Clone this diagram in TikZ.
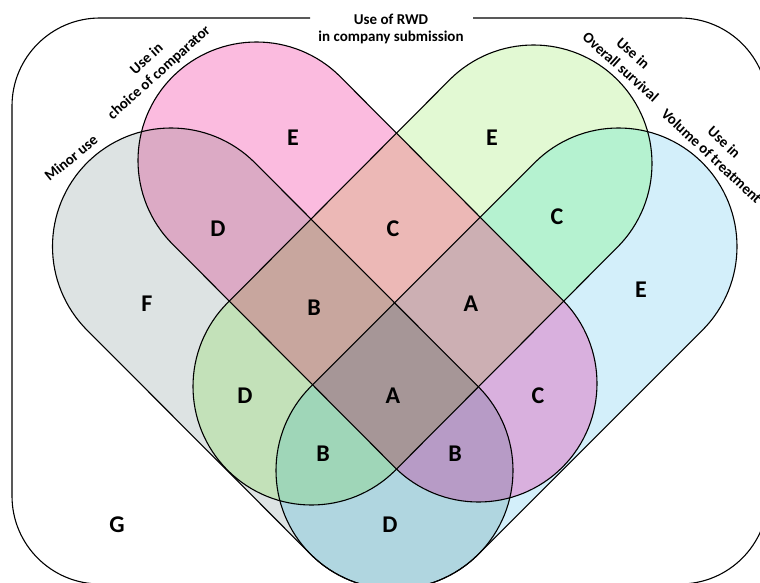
\documentclass[tikz,border=0pt]{standalone}
\usepackage{fontspec}
\setmainfont{Carlito}
\usetikzlibrary{calc}
\definecolor{cG}{HTML}{DDE3E3}
\definecolor{cP}{HTML}{FBBBDF}
\definecolor{cN}{HTML}{E2F9D3}
\definecolor{cU}{HTML}{D3EFFA}
\definecolor{cGP}{HTML}{DCAAC5}
\definecolor{cPN}{HTML}{ECB8B6}
\definecolor{cNU}{HTML}{B5F2D0}
\definecolor{cGN}{HTML}{C3E1B9}
\definecolor{cPU}{HTML}{D9B0DE}
\definecolor{cGU}{HTML}{B0D6E0}
\definecolor{cGPN}{HTML}{C8A69E}
\definecolor{cPNU}{HTML}{CCAFB3}
\definecolor{cGNU}{HTML}{9FD6B8}
\definecolor{cGPU}{HTML}{B79BC6}
\definecolor{cGPNU}{HTML}{A69697}
\newcommand\caprad{118.5}
\newcommand\capsulepath[3]{($(#1)+(#3-90:\caprad)$) -- ($(#2)+(#3-90:\caprad)$) arc[start angle=#3-90,end angle=#3+90,radius=\caprad] -- ($(#1)+(#3+90:\caprad)$) arc[start angle=#3+90,end angle=#3+270,radius=\caprad] -- cycle}
\def\shG{\capsulepath{171,246.5}{394.5,470.5}{45}}
\def\shP{\capsulepath{256.5,160.5}{478.5,383.5}{45}}
\def\shN{\capsulepath{533.5,163.5}{311.5,386.5}{135}}
\def\shU{\capsulepath{618.5,246.5}{394.5,470.5}{135}}
\begin{document}
\begin{tikzpicture}[x=1pt,y=-1pt,
  outl/.style={draw=black,line width=1.1pt},
  lbl/.style={font=\fontsize{24}{24}\selectfont\bfseries},
  captxt/.style={font=\fontsize{15}{18.5}\selectfont\bfseries,align=center,inner sep=0pt}]
\useasboundingbox (0,0) rectangle (760,583);
\clip (0,0) rectangle (760,583);
\fill[white] (0,0) rectangle (760,583);
% single sets
\fill[cG] \shG;
\fill[cP] \shP;
\fill[cN] \shN;
\fill[cU] \shU;
% pairs
\begin{scope}\clip \shG; \fill[cGP] \shP; \fill[cGN] \shN; \fill[cGU] \shU; \end{scope}
\begin{scope}\clip \shP; \fill[cPN] \shN; \fill[cPU] \shU; \end{scope}
\begin{scope}\clip \shN; \fill[cNU] \shU; \end{scope}
% triples
\begin{scope}\clip \shG; \clip \shP; \fill[cGPN] \shN; \fill[cGPU] \shU; \end{scope}
\begin{scope}\clip \shG; \clip \shN; \fill[cGNU] \shU; \end{scope}
\begin{scope}\clip \shP; \clip \shN; \fill[cPNU] \shU; \end{scope}
% all four
\begin{scope}\clip \shG; \clip \shP; \clip \shN; \fill[cGPNU] \shU; \end{scope}
% outlines
\draw[outl] \shG;
\draw[outl] \shP;
\draw[outl] \shN;
\draw[outl] \shU;
% frame
\draw[outl] (473,18) -- (680,18) arc[start angle=-90,end angle=0,radius=88] -- (768,496)
  arc[start angle=0,end angle=90,radius=88] -- (100,584)
  arc[start angle=90,end angle=180,radius=88] -- (12,106)
  arc[start angle=180,end angle=270,radius=88] -- (310,18);
% titles
\node[captxt,font=\fontsize{15}{17}\selectfont\bfseries] (title) at (391,29) {Use of RWD\\in company submission};
\node[captxt,rotate=39] (minor) at (71,158) {Minor use};
\node[captxt,rotate=42] (comp) at (153,66) {Use in\\choice of comparator};
\node[captxt,rotate=-42] (os) at (627,60) {Use in\\Overall survival};
\node[captxt,rotate=-43] (vol) at (718,149) {Use in\\Volume of treatment};
% region labels
\node[lbl] (e1) at (293,138) {E};
\node[lbl] (e2) at (492,138) {E};
\node[lbl] (d1) at (218,229) {D};
\node[lbl] (c1) at (393,229) {C};
\node[lbl] (c2) at (557,217) {C};
\node[lbl] (f) at (147,304) {F};
\node[lbl] (b1) at (314,308) {B};
\node[lbl] (a1) at (471,304) {A};
\node[lbl] (e3) at (641,290) {E};
\node[lbl] (d2) at (245,396) {D};
\node[lbl] (a2) at (393,396) {A};
\node[lbl] (c3) at (538,396) {C};
\node[lbl] (b2) at (323,454) {B};
\node[lbl] (b3) at (455,454) {B};
\node[lbl] (d3) at (390,525) {D};
\node[lbl] (g) at (117,525) {G};
\end{tikzpicture}
\end{document}
